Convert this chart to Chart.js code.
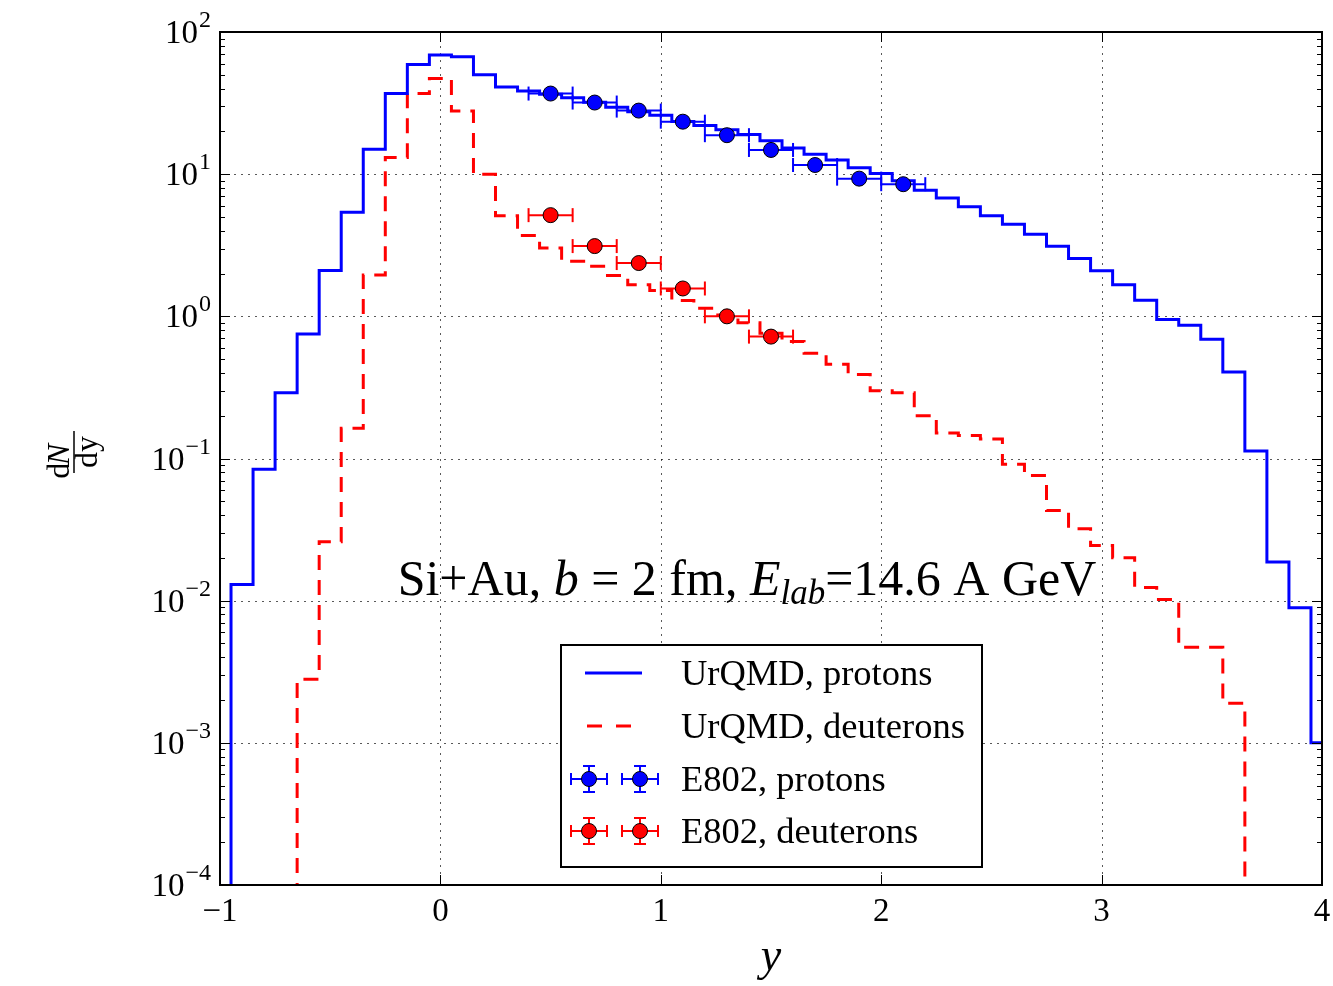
<!DOCTYPE html>
<html>
<head>
<meta charset="utf-8">
<script src="https://cdn.jsdelivr.net/npm/chart.js@4.4.0/dist/chart.umd.min.js"></script>
<style>
  html, body { margin: 0; padding: 0; background: #fff; }
  canvas { display: block; }
</style>
</head>
<body>
<canvas id="dndy" width="1333" height="986"></canvas>
<script>
// rapidity bins (centres), width 0.1
const binCenters = [-1.0, -0.9, -0.8, -0.7, -0.6, -0.5, -0.4, -0.3, -0.2, -0.1,
  0.0, 0.1, 0.2, 0.3, 0.4, 0.5, 0.6, 0.7, 0.8, 0.9,
  1.0, 1.1, 1.2, 1.3, 1.4, 1.5, 1.6, 1.7, 1.8, 1.9,
  2.0, 2.1, 2.2, 2.3, 2.4, 2.5, 2.6, 2.7, 2.8, 2.9,
  3.0, 3.1, 3.2, 3.3, 3.4, 3.5, 3.6, 3.7, 3.8, 3.9, 4.0];

const urqmdProtons = [0, 0.013, 0.084, 0.29, 0.75, 2.1, 5.4, 15, 37, 59,
  69, 67, 50, 41, 38.5, 36.5, 34.5, 32, 29.5, 27.5,
  26, 23.5, 22, 20.5, 19, 17.2, 15.3, 13.8, 12.6, 11.1,
  10.1, 9.0, 7.7, 6.8, 5.9, 5.1, 4.45, 3.78, 3.11, 2.55,
  2.09, 1.67, 1.30, 0.95, 0.865, 0.69, 0.406, 0.113, 0.0187, 0.0089, 0.001];

const urqmdDeuterons = [0, 0, 0, 0, 0.0028, 0.026, 0.163, 1.95, 13.1, 37,
  47, 27.8, 10.0, 5.1, 3.7, 3.03, 2.44, 2.25, 1.94, 1.67,
  1.52, 1.29, 1.14, 1.02, 0.9, 0.76, 0.665, 0.55, 0.46, 0.39,
  0.30, 0.29, 0.20, 0.151, 0.145, 0.137, 0.091, 0.076, 0.043, 0.032,
  0.0244, 0.020, 0.0124, 0.0102, 0.0047, 0.0047, 0.0019, 0, 0, 0, 0];

// E802 data
const e802ProtonY = [0.5, 0.7, 0.9, 1.1, 1.3, 1.5, 1.7, 1.9, 2.1];
const e802Protons = [36.9, 31.9, 28.0, 23.4, 18.8, 14.8, 11.6, 9.3, 8.5];
const e802DeuteronY = [0.5, 0.7, 0.9, 1.1, 1.3, 1.5];
const e802Deuterons = [5.15, 3.12, 2.37, 1.57, 1.0, 0.72];
const e802ProtonYErr = [0.1, 0.1, 0.1, 0.1, 0.1, 0.1, 0.1, 0.1, 0.1];
const e802DeuteronYErr = [0.1, 0.1, 0.1, 0.1, 0.1, 0.1];

const xTickValues = [-1, 0, 1, 2, 3, 4];
const xTickLabels = ['\u22121', '0', '1', '2', '3', '4'];
const yTickExponents = [-4, -3, -2, -1, 0, 1, 2];
const yTickLabels = ['\u22124', '\u22123', '\u22122', '\u22121', '0', '1', '2'];

const legendLabels = ['UrQMD, protons', 'UrQMD, deuterons', 'E802, protons', 'E802, deuterons'];

const SERIF = '"Liberation Serif", "DejaVu Serif", serif';
const BLUE = '#0000ff', RED = '#ff0000';

// empty bins sit far below the axis so the step drops out of the frame
const hist = (vals) => binCenters.map((c, i) => ({ x: c, y: vals[i] > 0 ? vals[i] : 1e-9 }));
const pts = (xs, ys) => xs.map((v, i) => ({ x: v, y: ys[i] }));

function seg(ctx, x1, y1, x2, y2) { ctx.beginPath(); ctx.moveTo(x1, y1); ctx.lineTo(x2, y2); ctx.stroke(); }

function errMarker(ctx, cx, cy, color, hw, vh, r) {
  ctx.save();
  ctx.strokeStyle = color; ctx.lineWidth = 2; ctx.setLineDash([]);
  seg(ctx, cx - hw, cy, cx + hw, cy);
  seg(ctx, cx - hw, cy - 6, cx - hw, cy + 6);
  seg(ctx, cx + hw, cy - 6, cx + hw, cy + 6);
  if (vh) {
    seg(ctx, cx, cy - vh, cx, cy + vh);
    seg(ctx, cx - 6, cy - vh, cx + 6, cy - vh);
    seg(ctx, cx - 6, cy + vh, cx + 6, cy + vh);
  }
  ctx.beginPath(); ctx.arc(cx, cy, r, 0, Math.PI * 2);
  ctx.fillStyle = color; ctx.fill();
  ctx.lineWidth = 1; ctx.strokeStyle = '#000'; ctx.stroke();
  ctx.restore();
}

function richText(ctx, pieces, cx, base) {
  let total = 0;
  pieces.forEach(p => { ctx.font = p.f; p.w = ctx.measureText(p.t).width; total += p.w; });
  let xx = cx - total / 2;
  pieces.forEach(p => { ctx.font = p.f; ctx.fillText(p.t, xx, base + (p.dy || 0)); xx += p.w; });
}

const errorSets = {
  0: { xs: e802ProtonY, ys: e802Protons, err: e802ProtonYErr, color: BLUE },
  1: { xs: e802DeuteronY, ys: e802Deuterons, err: e802DeuteronYErr, color: RED }
};

const decor = {
  id: 'decor',
  beforeDatasetsDraw(chart) {
    const { ctx, chartArea: a, scales: { x, y } } = chart;
    ctx.save();
    ctx.strokeStyle = 'rgba(0,0,0,0.65)';
    ctx.lineWidth = 1;
    ctx.setLineDash([2, 5]);
    xTickValues.forEach(v => { const p = Math.round(x.getPixelForValue(v)) + 0.5; seg(ctx, p, a.top, p, a.bottom); });
    yTickExponents.forEach(e => { const p = Math.round(y.getPixelForValue(Math.pow(10, e))) + 0.5; seg(ctx, a.left, p, a.right, p); });
    ctx.restore();
  },
  beforeDatasetDraw(chart, args) {
    const s = errorSets[args.index];
    if (!s) return;
    const { ctx, scales: { x, y } } = chart;
    ctx.save();
    ctx.strokeStyle = s.color; ctx.lineWidth = 2;
    s.xs.forEach((v, i) => {
      const py = y.getPixelForValue(s.ys[i]);
      const x1 = x.getPixelForValue(v - s.err[i]), x2 = x.getPixelForValue(v + s.err[i]);
      seg(ctx, x1, py, x2, py);
      seg(ctx, x1, py - 7, x1, py + 7);
      seg(ctx, x2, py - 7, x2, py + 7);
    });
    ctx.restore();
  },
  afterDatasetsDraw(chart) {
    const { ctx, chartArea: a, scales: { x, y } } = chart;
    ctx.save();
    ctx.strokeStyle = '#000'; ctx.fillStyle = '#000';
    // ticks
    ctx.lineWidth = 1;
    xTickValues.forEach(v => {
      const p = Math.round(x.getPixelForValue(v)) + 0.5;
      seg(ctx, p, a.bottom, p, a.bottom - 10);
      seg(ctx, p, a.top, p, a.top + 10);
    });
    yTickExponents.forEach((e, k) => {
      const p = Math.round(y.getPixelForValue(Math.pow(10, e))) + 0.5;
      seg(ctx, a.left, p, a.left + 10, p);
      seg(ctx, a.right, p, a.right - 10, p);
      if (k < yTickExponents.length - 1) {
        for (let m = 2; m <= 9; m++) {
          const q = Math.round(y.getPixelForValue(m * Math.pow(10, e))) + 0.5;
          seg(ctx, a.left, q, a.left + 5, q);
          seg(ctx, a.right, q, a.right - 5, q);
        }
      }
    });
    // frame
    ctx.lineWidth = 2;
    ctx.strokeRect(a.left, a.top, a.right - a.left, a.bottom - a.top);

    // x tick labels
    ctx.font = '33px ' + SERIF;
    ctx.textAlign = 'center'; ctx.textBaseline = 'alphabetic';
    xTickValues.forEach((v, i) => ctx.fillText(xTickLabels[i], x.getPixelForValue(v), a.bottom + 36));
    // y tick labels 10^n
    ctx.textAlign = 'left';
    yTickExponents.forEach((e, i) => {
      const p = y.getPixelForValue(Math.pow(10, e));
      ctx.font = '24px ' + SERIF;
      const ws = ctx.measureText(yTickLabels[i]).width;
      ctx.font = '33px ' + SERIF;
      const wb = ctx.measureText('10').width;
      const right = a.left - 9;
      ctx.fillText('10', right - ws - wb - 1, p + 11);
      ctx.font = '24px ' + SERIF;
      ctx.fillText(yTickLabels[i], right - ws, p - 5);
    });

    // axis titles
    ctx.textAlign = 'center';
    ctx.font = 'italic 46px ' + SERIF;
    ctx.fillText('y', (a.left + a.right) / 2, 970);
    ctx.save();
    ctx.translate(74, 452);
    ctx.rotate(-Math.PI / 2);
    richText(ctx, [{ t: 'd', f: '32px ' + SERIF }, { t: 'N', f: 'italic 32px ' + SERIF }], 0, -5);
    ctx.font = '32px ' + SERIF;
    ctx.fillText('dy', 0, 23);
    ctx.lineWidth = 1.5;
    seg(ctx, -21, 0, 21, 0);
    ctx.restore();

    // annotation
    ctx.textAlign = 'left';
    const n = '50px ' + SERIF, it = 'italic 50px ' + SERIF;
    richText(ctx, [
      { t: 'Si+Au, ', f: n }, { t: 'b', f: it }, { t: ' = ', f: n }, { t: '2 fm, ', f: n },
      { t: 'E', f: it }, { t: 'lab', f: 'italic 35px ' + SERIF, dy: 9 }, { t: '=14.6 A GeV', f: n }
    ], 747, 595);

    // legend
    ctx.fillStyle = '#fff';
    ctx.fillRect(561, 645, 421, 222);
    ctx.lineWidth = 2; ctx.strokeStyle = '#000';
    ctx.strokeRect(561, 645, 421, 222);
    const rows = [673, 726, 779, 831];
    ctx.lineWidth = 3; ctx.strokeStyle = BLUE;
    seg(ctx, 585, rows[0], 642, rows[0]);
    ctx.strokeStyle = RED; ctx.setLineDash([15, 14]);
    seg(ctx, 587, rows[1], 632, rows[1]);
    ctx.setLineDash([]);
    errMarker(ctx, 589, rows[2], BLUE, 18, 13, 7.5);
    errMarker(ctx, 640, rows[2], BLUE, 18, 13, 7.5);
    errMarker(ctx, 589, rows[3], RED, 18, 13, 7.5);
    errMarker(ctx, 640, rows[3], RED, 18, 13, 7.5);
    ctx.fillStyle = '#000';
    ctx.font = '36.5px ' + SERIF;
    legendLabels.forEach((t, i) => ctx.fillText(t, 681, rows[i] + 12));
    ctx.restore();
  }
};

new Chart(document.getElementById('dndy'), {
  type: 'line',
  data: {
    datasets: [
      { type: 'scatter', label: legendLabels[2], data: pts(e802ProtonY, e802Protons),
        pointRadius: 7.5, pointBackgroundColor: BLUE, pointBorderColor: '#000', pointBorderWidth: 1, showLine: false },
      { type: 'scatter', label: legendLabels[3], data: pts(e802DeuteronY, e802Deuterons),
        pointRadius: 7.5, pointBackgroundColor: RED, pointBorderColor: '#000', pointBorderWidth: 1, showLine: false },
      { label: legendLabels[0], data: hist(urqmdProtons), stepped: 'middle',
        borderColor: BLUE, borderWidth: 3, pointRadius: 0, fill: false },
      { label: legendLabels[1], data: hist(urqmdDeuterons), stepped: 'middle',
        borderColor: RED, borderWidth: 3, borderDash: [15, 10], pointRadius: 0, fill: false }
    ]
  },
  options: {
    responsive: false,
    animation: false,
    events: [],
    layout: { padding: { left: 220, right: 11, top: 32, bottom: 101 } },
    plugins: { legend: { display: false }, tooltip: { enabled: false } },
    scales: {
      x: { type: 'linear', min: -1, max: 4, display: false },
      y: { type: 'logarithmic', min: 1e-4, max: 100, display: false }
    }
  },
  plugins: [decor]
});
</script>
</body>
</html>
